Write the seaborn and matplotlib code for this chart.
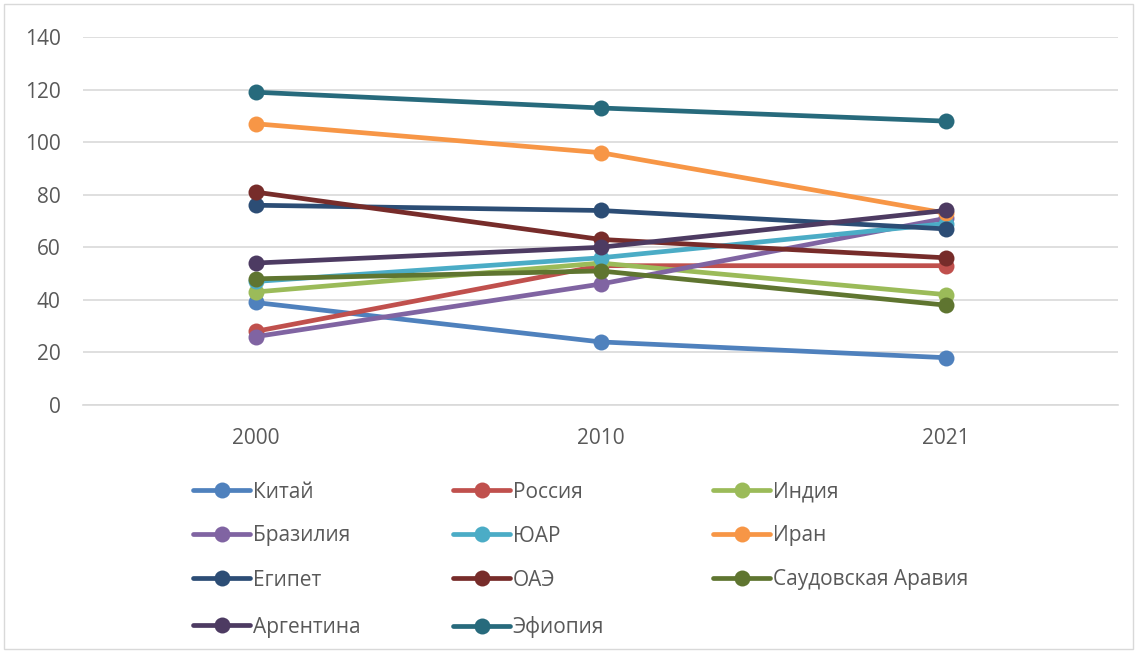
import matplotlib
matplotlib.use("Agg")
import matplotlib.pyplot as plt
from matplotlib.lines import Line2D
from matplotlib.patches import Rectangle
import pandas as pd
import seaborn as sns

# Categories (years) and series values
years = ["2000", "2010", "2021"]
countries = ["Китай", "Россия", "Индия", "Бразилия", "ЮАР", "Иран",
             "Египет", "ОАЭ", "Саудовская Аравия", "Аргентина", "Эфиопия"]
china = [39, 24, 18]
russia = [28, 53, 53]
india = [43, 54, 42]
brazil = [26, 46, 71]
south_africa = [47, 56, 69]
iran = [107, 96, 73]
egypt = [76, 74, 67]
uae = [81, 63, 56]
saudi = [48, 51, 38]
argentina = [54, 60, 74]
ethiopia = [119, 113, 108]
y_ticks = [0, 20, 40, 60, 80, 100, 120, 140]

series = [china, russia, india, brazil, south_africa, iran,
          egypt, uae, saudi, argentina, ethiopia]
colors = ["#4F81BD", "#C0504D", "#9BBB59", "#8064A2", "#4BACC6", "#F79646",
          "#2C4D75", "#772C2A", "#5F7530", "#4D3B62", "#276A7C"]

rows = []
for name, vals in zip(countries, series):
    for yr, v in zip(years, vals):
        rows.append({"Год": yr, "Значение": v, "Страна": name})
df = pd.DataFrame(rows)

sns.set_theme(style="white")
plt.rcParams["font.family"] = ["Open Sans", "DejaVu Sans"]
text_color = "#595959"
grid_color = "#D9D9D9"
font_size = 15
line_w = 3.4
marker_s = 11.5

fig = plt.figure(figsize=(11.37, 6.53), dpi=100)
ax = fig.add_axes([83 / 1137, 1 - 405 / 653, (1118 - 83) / 1137, (405 - 37) / 653])

palette = dict(zip(countries, colors))
sns.lineplot(data=df, x="Год", y="Значение", hue="Страна", hue_order=countries,
             palette=palette, marker="o", markersize=marker_s, markeredgewidth=0,
             linewidth=line_w, legend=False, ax=ax, sort=False)

ax.set_xlim(-0.5, 2.5)
ax.set_ylim(0, 140)
ax.set_yticks(y_ticks)
ax.yaxis.grid(True, color=grid_color, linewidth=1.2)
ax.set_axisbelow(True)
for side in ["left", "right", "top"]:
    ax.spines[side].set_visible(False)
ax.spines["bottom"].set_color(grid_color)
ax.spines["bottom"].set_linewidth(1.2)
ax.set_xlabel("")
ax.set_ylabel("")
ax.tick_params(axis="x", length=0, pad=16.5, labelsize=font_size, labelcolor=text_color)
ax.tick_params(axis="y", length=0, pad=16, labelsize=font_size, labelcolor=text_color)

# Legend in three columns, filled row by row
col_x = [193, 453, 713]
row_y = [492, 536, 580, 627]
for i, (name, col) in enumerate(zip(countries, colors)):
    r, c = divmod(i, 3)
    h = Line2D([], [], color=col, linewidth=line_w, marker="o", markersize=marker_s,
               markeredgewidth=0)
    leg = fig.legend([h], [name], loc="center left",
                     bbox_to_anchor=(col_x[c] / 1137, 1 - row_y[r] / 653),
                     frameon=False, handlelength=2.75, handletextpad=0.12,
                     borderpad=0, borderaxespad=0, fontsize=font_size)
    for t in leg.get_texts():
        t.set_color(text_color)

# Chart area border
fig.patches.append(Rectangle((4 / 1137, 4 / 653), 1129 / 1137, 645 / 653,
                             transform=fig.transFigure, fill=False,
                             edgecolor=grid_color, linewidth=1.0))

fig.savefig("out.png", dpi=100)
